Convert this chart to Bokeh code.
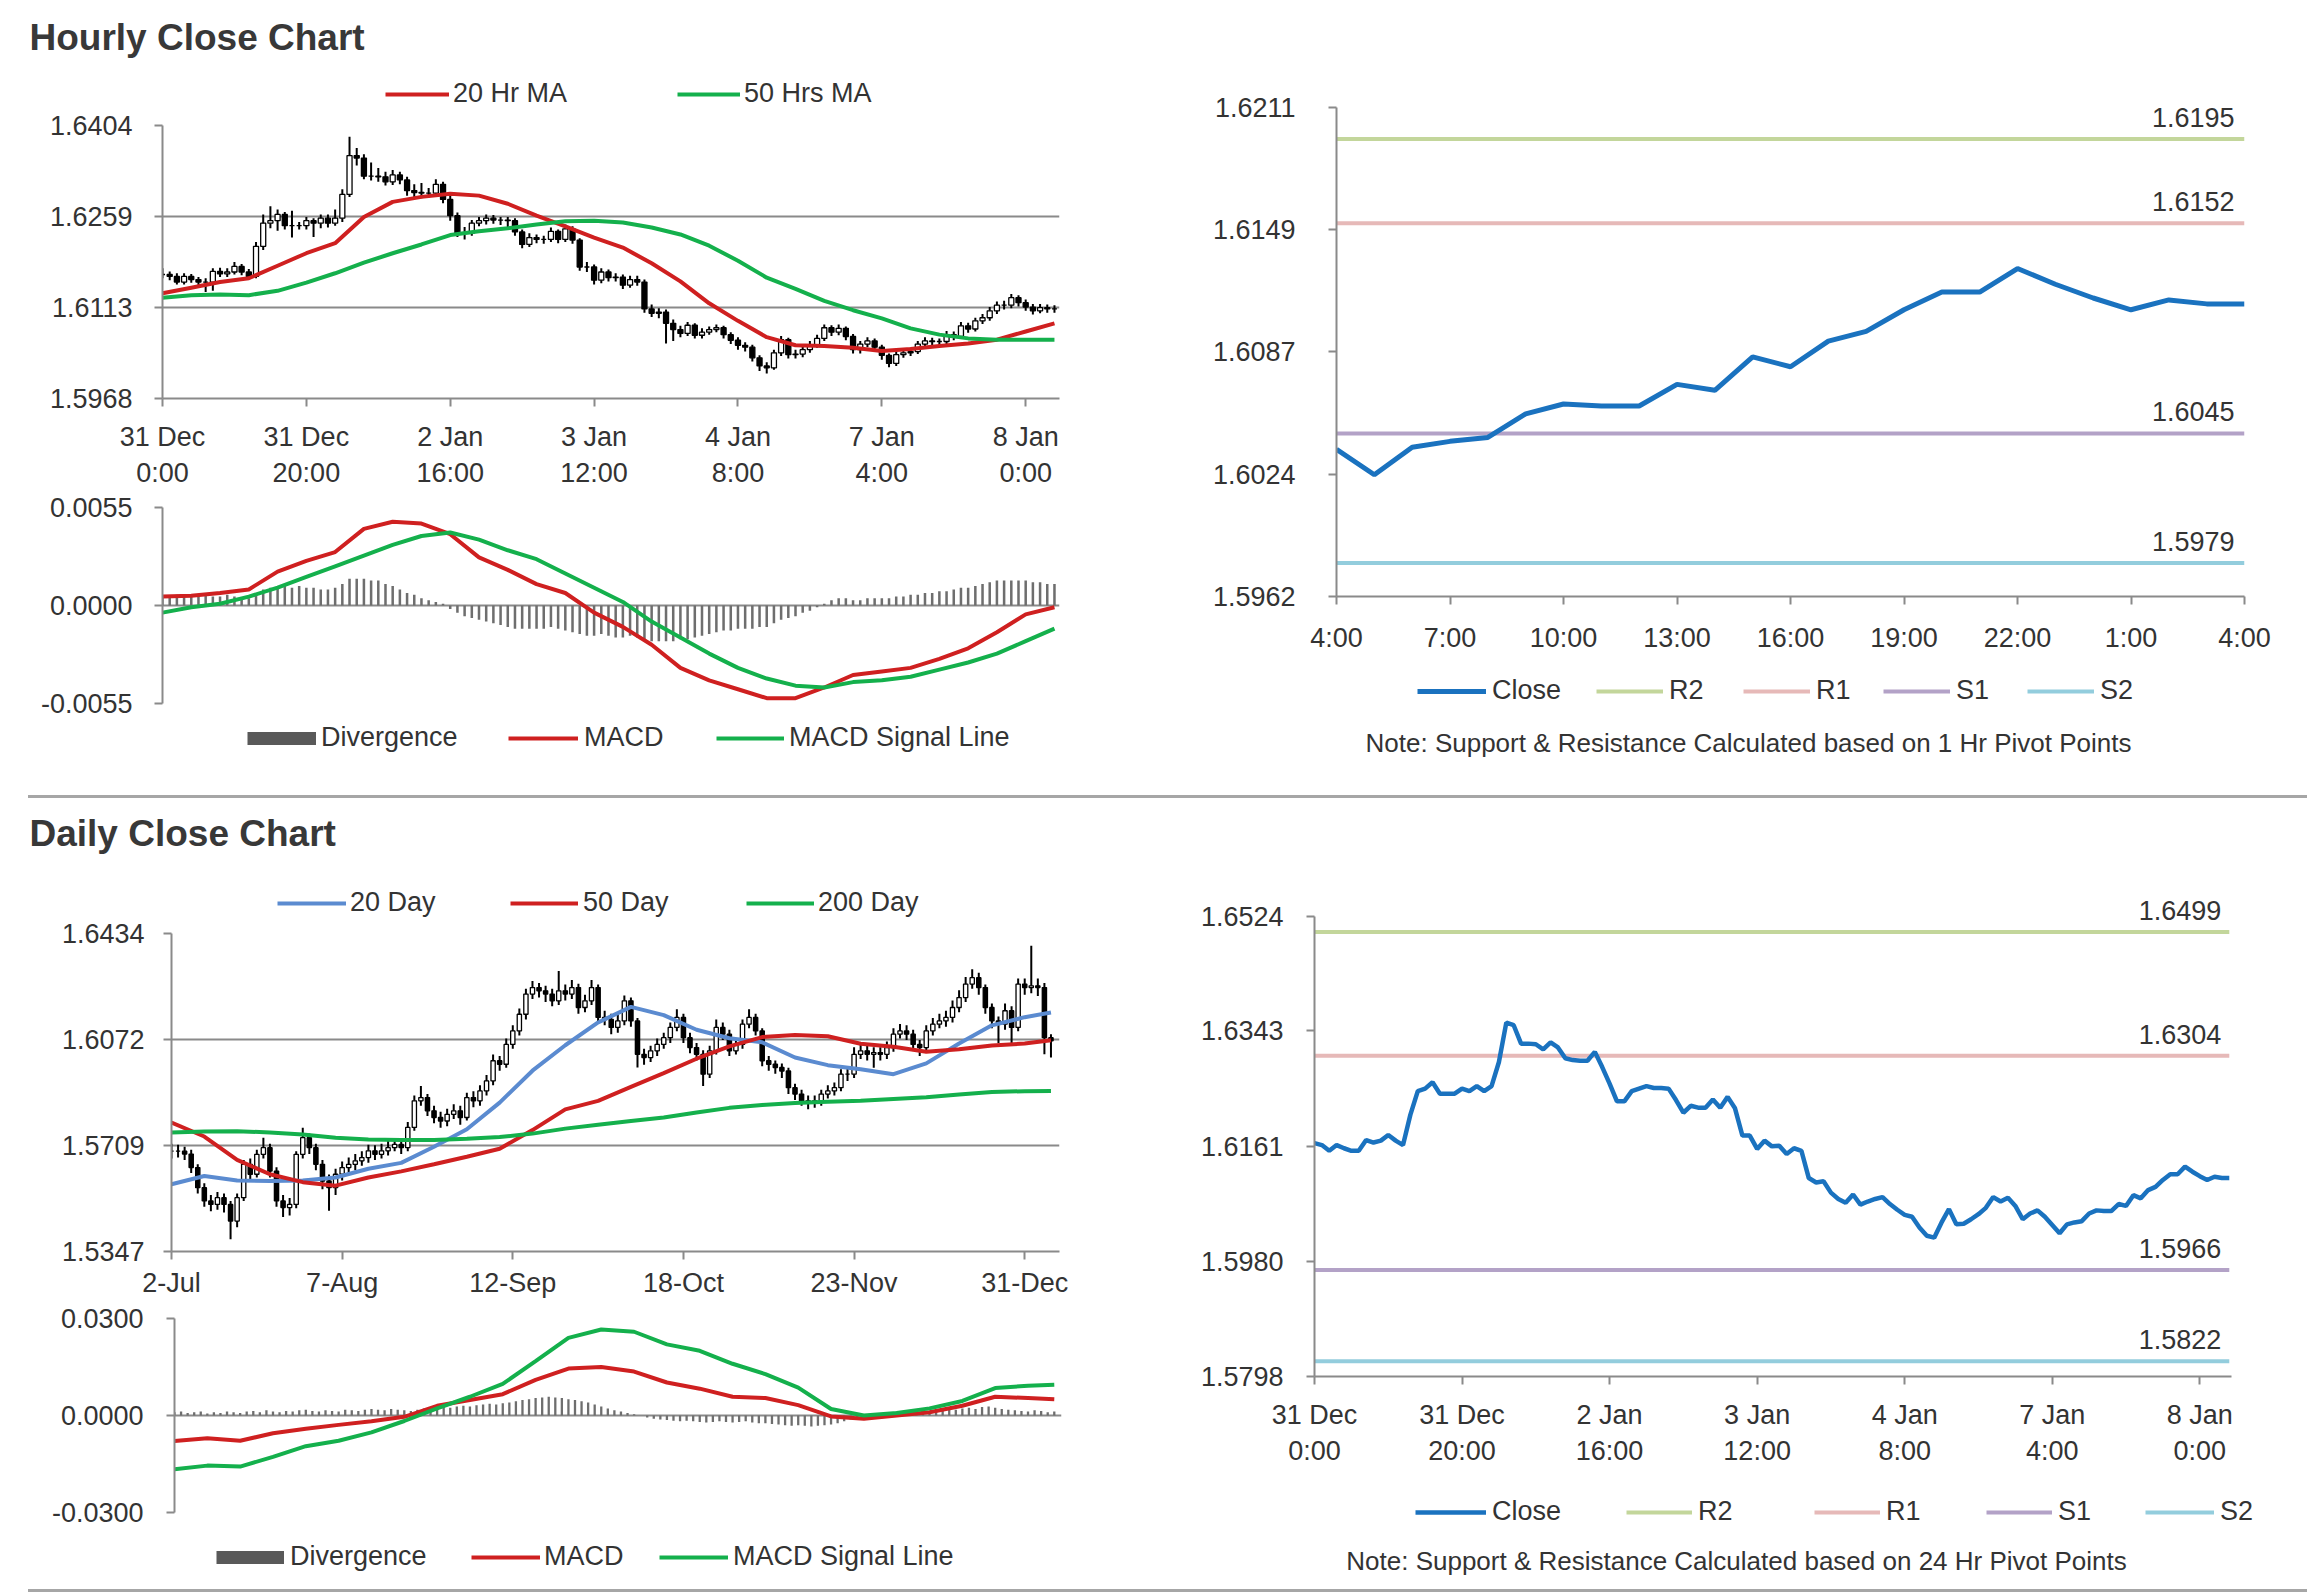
from bokeh.plotting import figure
from bokeh.models import (FixedTicker, NumeralTickFormatter, Legend, LegendItem, Label,
                          ColumnDataSource, Div)
from bokeh.layouts import column, row
from bokeh.embed import file_html
from bokeh.resources import INLINE
from bokeh.core.properties import value

# ---------------------------------------------------------------- data
# hourly bars: 31 Dec 0:00 ... 8 Jan 4:00 (125 trading hours)
hour_tick_pos = [0, 20, 40, 60, 80, 100, 120]
hour_tick_labels = ["31 Dec\n0:00", "31 Dec\n20:00", "2 Jan\n16:00", "3 Jan\n12:00",
                    "4 Jan\n8:00", "7 Jan\n4:00", "8 Jan\n0:00"]

hourly_close = [
    1.6166, 1.6163, 1.6154, 1.6163, 1.6158, 1.6154, 1.6154, 1.6171, 1.6167, 1.6170,
    1.6179, 1.6170, 1.6163, 1.6211, 1.6248, 1.6252, 1.6262, 1.6244, 1.6244, 1.6244,
    1.6252, 1.6248, 1.6256, 1.6248, 1.6256, 1.6294, 1.6356, 1.6352, 1.6323, 1.6323,
    1.6322, 1.6314, 1.6325, 1.6317, 1.6300, 1.6297, 1.6296, 1.6296, 1.6310, 1.6286,
    1.6260, 1.6232, 1.6232, 1.6248, 1.6252, 1.6256, 1.6253, 1.6253, 1.6252, 1.6234,
    1.6214, 1.6225, 1.6222, 1.6222, 1.6235, 1.6222, 1.6239, 1.6221, 1.6178, 1.6178,
    1.6157, 1.6170, 1.6161, 1.6162, 1.6149, 1.6158, 1.6154, 1.6111, 1.6104, 1.6106,
    1.6088, 1.6078, 1.6072, 1.6085, 1.6069, 1.6074, 1.6078, 1.6081, 1.6070, 1.6061,
    1.6053, 1.6050, 1.6033, 1.6020, 1.6017, 1.6041, 1.6062, 1.6038, 1.6039, 1.6046,
    1.6054, 1.6064, 1.6081, 1.6074, 1.6080, 1.6067, 1.6046, 1.6055, 1.6060, 1.6050,
    1.6037, 1.6024, 1.6038, 1.6041, 1.6043, 1.6055, 1.6060, 1.6059, 1.6059, 1.6070,
    1.6067, 1.6084, 1.6079, 1.6092, 1.6097, 1.6108, 1.6117, 1.6117, 1.6129, 1.6121,
    1.6114, 1.6108, 1.6113, 1.6111, 1.6111]
hourly_high = [
    1.6176, 1.6171, 1.6168, 1.6168, 1.6167, 1.6162, 1.6160, 1.6176, 1.6177, 1.6176,
    1.6186, 1.6183, 1.6175, 1.6218, 1.6262, 1.6275, 1.6270, 1.6266, 1.6268, 1.6250,
    1.6258, 1.6256, 1.6262, 1.6262, 1.6270, 1.6302, 1.6386, 1.6368, 1.6358, 1.6345,
    1.6336, 1.6330, 1.6333, 1.6330, 1.6322, 1.6310, 1.6312, 1.6304, 1.6318, 1.6314,
    1.6292, 1.6265, 1.6242, 1.6253, 1.6258, 1.6262, 1.6261, 1.6258, 1.6258, 1.6256,
    1.6238, 1.6232, 1.6230, 1.6228, 1.6241, 1.6238, 1.6246, 1.6243, 1.6224, 1.6186,
    1.6182, 1.6176, 1.6174, 1.6168, 1.6166, 1.6164, 1.6164, 1.6158, 1.6118, 1.6112,
    1.6110, 1.6094, 1.6084, 1.6090, 1.6088, 1.6080, 1.6083, 1.6086, 1.6084, 1.6074,
    1.6066, 1.6058, 1.6054, 1.6037, 1.6026, 1.6046, 1.6068, 1.6065, 1.6046, 1.6052,
    1.6060, 1.6070, 1.6086, 1.6085, 1.6086, 1.6083, 1.6071, 1.6060, 1.6066, 1.6064,
    1.6054, 1.6040, 1.6043, 1.6046, 1.6049, 1.6060, 1.6066, 1.6065, 1.6064, 1.6076,
    1.6075, 1.6090, 1.6089, 1.6097, 1.6103, 1.6114, 1.6123, 1.6124, 1.6135, 1.6133,
    1.6126, 1.6119, 1.6119, 1.6118, 1.6117]
hourly_low = [
    1.6160, 1.6157, 1.6150, 1.6150, 1.6153, 1.6148, 1.6138, 1.6140, 1.6162, 1.6162,
    1.6166, 1.6165, 1.6158, 1.6160, 1.6205, 1.6240, 1.6236, 1.6238, 1.6225, 1.6238,
    1.6238, 1.6226, 1.6240, 1.6241, 1.6244, 1.6250, 1.6290, 1.6340, 1.6318, 1.6316,
    1.6314, 1.6308, 1.6309, 1.6310, 1.6292, 1.6288, 1.6288, 1.6289, 1.6290, 1.6280,
    1.6252, 1.6226, 1.6222, 1.6228, 1.6243, 1.6246, 1.6247, 1.6245, 1.6242, 1.6228,
    1.6208, 1.6210, 1.6216, 1.6215, 1.6218, 1.6216, 1.6218, 1.6215, 1.6172, 1.6170,
    1.6150, 1.6152, 1.6155, 1.6155, 1.6143, 1.6145, 1.6148, 1.6105, 1.6098, 1.6096,
    1.6056, 1.6060, 1.6066, 1.6068, 1.6064, 1.6064, 1.6070, 1.6074, 1.6064, 1.6055,
    1.6046, 1.6043, 1.6027, 1.6012, 1.6008, 1.6014, 1.6036, 1.6032, 1.6032, 1.6034,
    1.6041, 1.6049, 1.6060, 1.6068, 1.6069, 1.6061, 1.6040, 1.6040, 1.6050, 1.6044,
    1.6030, 1.6018, 1.6020, 1.6033, 1.6036, 1.6039, 1.6050, 1.6053, 1.6052, 1.6055,
    1.6061, 1.6063, 1.6073, 1.6075, 1.6087, 1.6092, 1.6103, 1.6110, 1.6112, 1.6115,
    1.6108, 1.6102, 1.6104, 1.6105, 1.6105]

# moving averages / MACD sampled every 4 hours
hour_ma_idx = [0, 4, 8, 12, 16, 20, 24, 28, 32, 36, 40, 44, 48, 52, 56, 60,
               64, 68, 72, 76, 80, 84, 88, 92, 96, 100, 104, 108, 112, 116, 120, 124]
ma20_hour = [1.6136, 1.6145, 1.6154, 1.6160, 1.6180, 1.6200, 1.6216, 1.6258,
             1.6282, 1.6290, 1.6295, 1.6292, 1.6279, 1.6260, 1.6243, 1.6225,
             1.6209, 1.6184, 1.6155, 1.6120, 1.6092, 1.6066, 1.6053, 1.6052,
             1.6049, 1.6044, 1.6047, 1.6052, 1.6056, 1.6062, 1.6075, 1.6088]
ma50_hour = [1.6129, 1.6133, 1.6134, 1.6133, 1.6140, 1.6153, 1.6168, 1.6185,
             1.6200, 1.6214, 1.6229, 1.6235, 1.6240, 1.6246, 1.6251, 1.6252,
             1.6249, 1.6241, 1.6230, 1.6212, 1.6188, 1.6161, 1.6143, 1.6124,
             1.6109, 1.6096, 1.6080, 1.6070, 1.6064, 1.6062, 1.6062, 1.6062]
macd_hour = [0.0005, 0.00055, 0.0007, 0.0009, 0.0019, 0.0025, 0.0030, 0.0043,
             0.0047, 0.0046, 0.0040, 0.0027, 0.0020, 0.0012, 0.0007, -0.0004,
             -0.0012, -0.0022, -0.0035, -0.0042, -0.0047, -0.0052, -0.0052, -0.0046,
             -0.0039, -0.0037, -0.0035, -0.0030, -0.0024, -0.0015, -0.0005, -0.0001]
signal_hour = [-0.0004, -0.0001, 0.0001, 0.0005, 0.0010, 0.0016, 0.0022, 0.0028,
               0.0034, 0.0039, 0.0041, 0.0037, 0.0031, 0.0026, 0.0018, 0.0010,
               0.0002, -0.0009, -0.0018, -0.0027, -0.0035, -0.0041, -0.0045, -0.0046,
               -0.0043, -0.0042, -0.0040, -0.0036, -0.0032, -0.0027, -0.0020, -0.0013]
div_hour = [
    0.0005, 0.0005, 0.0006, 0.0005, 0.0005, 0.0006, 0.0006, 0.0005, 0.0005, 0.0006,
    0.0005, 0.0004, 0.0004, 0.0006, 0.0009, 0.0010, 0.0011, 0.0011, 0.0010, 0.0011,
    0.0010, 0.0010, 0.0009, 0.0009, 0.0010, 0.0012, 0.0015, 0.0015, 0.0015, 0.0014,
    0.0014, 0.0012, 0.0011, 0.0009, 0.0007, 0.0006, 0.0004, 0.0003, 0.0002, 0.0001,
    -0.0002, -0.0004, -0.0006, -0.0007, -0.0008, -0.0009, -0.0010, -0.0011, -0.0012, -0.0013,
    -0.0013, -0.0013, -0.0013, -0.0013, -0.0012, -0.0013, -0.0014, -0.0015, -0.0016, -0.0017,
    -0.0017, -0.0016, -0.0017, -0.0018, -0.0018, -0.0017, -0.0018, -0.0019, -0.0020, -0.0020,
    -0.0020, -0.0020, -0.0019, -0.0019, -0.0018, -0.0017, -0.0016, -0.0015, -0.0014, -0.0014,
    -0.0013, -0.0013, -0.0013, -0.0012, -0.0012, -0.0010, -0.0008, -0.0007, -0.0006, -0.0004,
    -0.0003, -0.0001, 0.0001, 0.0003, 0.0004, 0.0004, 0.0003, 0.0003, 0.0004, 0.0004,
    0.0004, 0.0004, 0.0005, 0.0005, 0.0006, 0.0006, 0.0007, 0.0007, 0.0008, 0.0008,
    0.0009, 0.0010, 0.0010, 0.0011, 0.0012, 0.0013, 0.0014, 0.0014, 0.0014, 0.0014,
    0.0014, 0.0013, 0.0013, 0.0012, 0.0012]

# last 24 hours (7 Jan 4:00 .. 8 Jan 4:00) and pivot levels
day_hour_tick_pos = [0, 3, 6, 9, 12, 15, 18, 21, 24]
day_hour_tick_labels = ["4:00", "7:00", "10:00", "13:00", "16:00", "19:00", "22:00", "1:00", "4:00"]
pivot_names = ["R2", "R1", "S1", "S2"]
pivot_1h = [1.6195, 1.6152, 1.6045, 1.5979]
pivot_24h = [1.6499, 1.6304, 1.5966, 1.5822]
pivot_colors = ["#c3d69b", "#e6b9b8", "#b3a2c7", "#93cddd"]

# daily bars: 2 Jul ... 8 Jan
day_tick_pos = [0, 26, 52, 78, 104, 130]
day_tick_labels = ["2-Jul", "7-Aug", "12-Sep", "18-Oct", "23-Nov", "31-Dec"]
daily_close = [
    1.5690, 1.5690, 1.5680, 1.5634, 1.5565, 1.5520, 1.5508, 1.5531, 1.5508, 1.5451,
    1.5531, 1.5645, 1.5611, 1.5679, 1.5702, 1.5622, 1.5520, 1.5497, 1.5508, 1.5679,
    1.5736, 1.5702, 1.5645, 1.5588, 1.5565, 1.5611, 1.5634, 1.5645, 1.5657, 1.5668,
    1.5691, 1.5679, 1.5691, 1.5702, 1.5713, 1.5702, 1.5771, 1.5862, 1.5873, 1.5828,
    1.5805, 1.5793, 1.5816, 1.5828, 1.5805, 1.5873, 1.5862, 1.5896, 1.5930, 1.5999,
    1.5987, 1.6055, 1.6101, 1.6158, 1.6227, 1.6249, 1.6238, 1.6227, 1.6204, 1.6238,
    1.6227, 1.6249, 1.6181, 1.6204, 1.6249, 1.6147, 1.6140, 1.6113, 1.6135, 1.6204,
    1.6135, 1.6021, 1.6010, 1.6033, 1.6055, 1.6078, 1.6113, 1.6147, 1.6078, 1.6044,
    1.6021, 1.5953, 1.6033, 1.6113, 1.6090, 1.6033, 1.6055, 1.6124, 1.6147, 1.6101,
    1.5999, 1.5987, 1.5976, 1.5964, 1.5907, 1.5885, 1.5862, 1.5856, 1.5862, 1.5885,
    1.5896, 1.5907, 1.5953, 1.5953, 1.6021, 1.6033, 1.6021, 1.6027, 1.6021, 1.6044,
    1.6090, 1.6101, 1.6090, 1.6055, 1.6044, 1.6101, 1.6124, 1.6135, 1.6147, 1.6181,
    1.6215, 1.6261, 1.6283, 1.6249, 1.6181, 1.6135, 1.6124, 1.6170, 1.6113, 1.6261,
    1.6249, 1.6255, 1.6249, 1.6078, 1.6067]
daily_high = [
    1.5715, 1.5712, 1.5705, 1.5695, 1.5645, 1.5580, 1.5540, 1.5550, 1.5545, 1.5520,
    1.5545, 1.5660, 1.5665, 1.5695, 1.5736, 1.5715, 1.5635, 1.5540, 1.5530, 1.5690,
    1.5770, 1.5750, 1.5715, 1.5660, 1.5610, 1.5630, 1.5655, 1.5668, 1.5680, 1.5690,
    1.5712, 1.5710, 1.5715, 1.5725, 1.5735, 1.5730, 1.5790, 1.5880, 1.5913, 1.5885,
    1.5845, 1.5825, 1.5835, 1.5850, 1.5845, 1.5890, 1.5895, 1.5915, 1.5950, 1.6020,
    1.6015, 1.6075, 1.6120, 1.6178, 1.6245, 1.6272, 1.6265, 1.6255, 1.6245, 1.6306,
    1.6260, 1.6275, 1.6262, 1.6225, 1.6275, 1.6260, 1.6170, 1.6160, 1.6160, 1.6222,
    1.6215, 1.6145, 1.6040, 1.6050, 1.6075, 1.6095, 1.6130, 1.6175, 1.6160, 1.6095,
    1.6060, 1.6035, 1.6050, 1.6140, 1.6130, 1.6105, 1.6075, 1.6140, 1.6175, 1.6160,
    1.6110, 1.6015, 1.6000, 1.5990, 1.5975, 1.5920, 1.5900, 1.5880, 1.5880, 1.5900,
    1.5915, 1.5925, 1.5970, 1.5975, 1.6045, 1.6055, 1.6050, 1.6045, 1.6045, 1.6065,
    1.6110, 1.6125, 1.6120, 1.6105, 1.6070, 1.6120, 1.6145, 1.6160, 1.6170, 1.6205,
    1.6240, 1.6285, 1.6312, 1.6300, 1.6260, 1.6195, 1.6150, 1.6195, 1.6185, 1.6280,
    1.6280, 1.6392, 1.6280, 1.6265, 1.6090]
daily_low = [
    1.5665, 1.5668, 1.5660, 1.5615, 1.5545, 1.5500, 1.5485, 1.5490, 1.5480, 1.5389,
    1.5430, 1.5520, 1.5590, 1.5600, 1.5665, 1.5600, 1.5500, 1.5465, 1.5470, 1.5495,
    1.5665, 1.5680, 1.5625, 1.5560, 1.5486, 1.5540, 1.5590, 1.5615, 1.5625, 1.5640,
    1.5650, 1.5660, 1.5665, 1.5675, 1.5690, 1.5680, 1.5690, 1.5760, 1.5845, 1.5810,
    1.5785, 1.5770, 1.5775, 1.5800, 1.5780, 1.5795, 1.5840, 1.5845, 1.5880, 1.5915,
    1.5965, 1.5975, 1.6040, 1.6085, 1.6140, 1.6210, 1.6215, 1.6200, 1.6185, 1.6190,
    1.6205, 1.6210, 1.6160, 1.6165, 1.6190, 1.6125, 1.6120, 1.6090, 1.6095, 1.6120,
    1.6115, 1.5976, 1.5985, 1.5995, 1.6015, 1.6040, 1.6060, 1.6100, 1.6060, 1.6025,
    1.6000, 1.5913, 1.5940, 1.6020, 1.6070, 1.6015, 1.6020, 1.6040, 1.6110, 1.6085,
    1.5980, 1.5965, 1.5955, 1.5940, 1.5885, 1.5865, 1.5845, 1.5833, 1.5838, 1.5845,
    1.5870, 1.5880, 1.5895, 1.5930, 1.5940, 1.6005, 1.6000, 1.5975, 1.6000, 1.6005,
    1.6030, 1.6075, 1.6070, 1.6035, 1.6015, 1.6030, 1.6085, 1.6110, 1.6115, 1.6130,
    1.6165, 1.6200, 1.6245, 1.6225, 1.6160, 1.6110, 1.6060, 1.6105, 1.6060, 1.6100,
    1.6225, 1.6230, 1.6220, 1.6021, 1.6010]

day_ma_idx = [0, 5, 10, 15, 20, 25, 30, 35, 40, 45, 50, 55, 60, 65, 70, 75,
              80, 85, 90, 95, 100, 105, 110, 115, 120, 125, 130, 134]
ma20_day = [1.5577, 1.5605, 1.5590, 1.5588, 1.5590, 1.5600, 1.5630, 1.5650,
            1.5705, 1.5765, 1.5856, 1.5965, 1.6052, 1.6130, 1.6183, 1.6155,
            1.6105, 1.6076, 1.6062, 1.6010, 1.5984, 1.5970, 1.5953, 1.5990,
            1.6058, 1.6120, 1.6148, 1.6164]
ma50_day = [1.5788, 1.5740, 1.5660, 1.5611, 1.5584, 1.5572, 1.5600, 1.5621,
            1.5645, 1.5671, 1.5698, 1.5762, 1.5833, 1.5862, 1.5910, 1.5957,
            1.6006, 1.6048, 1.6080, 1.6087, 1.6083, 1.6057, 1.6047, 1.6030,
            1.6038, 1.6051, 1.6058, 1.6069]
ma200_day = [1.5754, 1.5757, 1.5758, 1.5754, 1.5747, 1.5736, 1.5730, 1.5728,
             1.5728, 1.5732, 1.5738, 1.5750, 1.5767, 1.5780, 1.5793, 1.5805,
             1.5822, 1.5838, 1.5848, 1.5855, 1.5859, 1.5862, 1.5868, 1.5874,
             1.5884, 1.5892, 1.5895, 1.5896]
macd_day = [-0.0079, -0.0070, -0.0078, -0.0055, -0.0041, -0.0029, -0.0018, -0.0004,
            0.0030, 0.0048, 0.0066, 0.0110, 0.0145, 0.0150, 0.0136, 0.0102,
            0.0083, 0.0058, 0.0054, 0.0032, -0.0003, -0.0010, 0.0000, 0.0010,
            0.0030, 0.0058, 0.0054, 0.0050]
signal_day = [-0.0166, -0.0155, -0.0158, -0.0128, -0.0095, -0.0078, -0.0052, -0.0017,
              0.0022, 0.0058, 0.0098, 0.0168, 0.0240, 0.0266, 0.0259, 0.0220,
              0.0200, 0.0160, 0.0128, 0.0086, 0.0020, 0.0000, 0.0008, 0.0022,
              0.0045, 0.0085, 0.0092, 0.0095]
div_day = [
    0.0010, 0.0012, 0.0008, 0.0010, 0.0012, 0.0006, 0.0010, 0.0008, 0.0012, 0.0010,
    0.0008, 0.0012, 0.0014, 0.0010, 0.0016, 0.0012, 0.0010, 0.0014, 0.0012, 0.0016,
    0.0018, 0.0014, 0.0012, 0.0016, 0.0014, 0.0012, 0.0018, 0.0016, 0.0014, 0.0018,
    0.0020, 0.0018, 0.0016, 0.0020, 0.0018, 0.0016, 0.0014, 0.0018, 0.0022, 0.0020,
    0.0024, 0.0026, 0.0024, 0.0028, 0.0030, 0.0028, 0.0032, 0.0034, 0.0036, 0.0034,
    0.0038, 0.0040, 0.0044, 0.0048, 0.0050, 0.0054, 0.0056, 0.0058, 0.0056, 0.0054,
    0.0050, 0.0048, 0.0044, 0.0040, 0.0034, 0.0028, 0.0022, 0.0016, 0.0012, 0.0008,
    0.0004, 0.0000, -0.0006, -0.0010, -0.0012, -0.0014, -0.0016, -0.0018, -0.0016, -0.0018,
    -0.0020, -0.0022, -0.0020, -0.0018, -0.0020, -0.0022, -0.0020, -0.0018, -0.0022, -0.0024,
    -0.0024, -0.0026, -0.0028, -0.0030, -0.0032, -0.0030, -0.0032, -0.0034, -0.0032, -0.0030,
    -0.0028, -0.0024, -0.0018, -0.0012, -0.0006, -0.0002, 0.0004, 0.0008, 0.0006, 0.0010,
    0.0012, 0.0010, 0.0014, 0.0012, 0.0016, 0.0014, 0.0018, 0.0016, 0.0020, 0.0018,
    0.0022, 0.0024, 0.0020, 0.0026, 0.0028, 0.0024, 0.0020, 0.0018, 0.0016, 0.0014,
    0.0012, 0.0016, 0.0014, 0.0010, 0.0012]

# ---------------------------------------------------------------- style
FONT = "Liberation Sans"
TXT = "#333333"
AXC = "#8a8a8a"
TFS = "27px"
RED = "#cf2020"
GREEN = "#14b04c"
BLUE = "#1a72bf"
BLUE2 = "#5b8bd0"
DIVC = "#6e6e6e"
LEGDIV = "#595959"
NAN = float("nan")


def base_fig(w, h, xr, yr, left, right, top, bottom, x_axis=True):
    p = figure(width=w, height=h, x_range=xr, y_range=yr, output_backend="svg",
               toolbar_location=None, tools="",
               min_border_left=left, min_border_right=right,
               min_border_top=top, min_border_bottom=bottom,
               x_axis_location="below" if x_axis else None)
    p.frame_align = False
    p.outline_line_color = None
    p.background_fill_color = "white"
    p.border_fill_color = "white"
    p.xgrid.visible = False
    p.ygrid.visible = False
    for ax in p.axis:
        ax.axis_line_color = AXC
        ax.axis_line_width = 2
        ax.major_tick_line_color = AXC
        ax.major_tick_line_width = 2
        ax.major_tick_out = 8
        ax.major_tick_in = 0
        ax.minor_tick_line_color = None
        ax.major_label_text_font = FONT
        ax.major_label_text_font_size = TFS
        ax.major_label_text_color = TXT
    return p


def strip(w, h):
    s = figure(width=w, height=h, x_range=(0, w), y_range=(0, h), output_backend="svg",
               toolbar_location=None, tools="", min_border=0,
               x_axis_location=None, y_axis_location=None)
    s.frame_align = False
    s.outline_line_color = None
    s.background_fill_color = "white"
    s.border_fill_color = "white"
    s.grid.visible = False
    return s


def set_y(p, ticks, standoff, grid):
    p.yaxis.ticker = FixedTicker(ticks=ticks)
    p.yaxis.formatter = NumeralTickFormatter(format="0.0000")
    p.yaxis.major_label_standoff = standoff
    p.yaxis.bounds = (ticks[0], ticks[-1])
    if grid:
        p.ygrid.ticker = FixedTicker(ticks=ticks)
        p.ygrid.visible = True
        p.ygrid.grid_line_color = AXC
        p.ygrid.grid_line_width = 2


def set_x(p, pos, labels, standoff):
    p.xaxis.ticker = FixedTicker(ticks=pos)
    p.xaxis.major_label_overrides = {k: v for k, v in zip(pos, labels)}
    p.xaxis.major_label_standoff = standoff


def legend_item(s, label, color, width, x, y, gw, standoff=5):
    # legend swatch proxy (NaN data: nothing drawn in the strip itself)
    proxy = s.line(x=[NAN, NAN], y=[NAN, NAN], line_color=color, line_width=width,
                   line_cap="butt")
    leg = Legend(items=[LegendItem(label=value(label), renderers=[proxy])],
                 location=(x, y), orientation="horizontal", padding=0, margin=0,
                 spacing=0, glyph_width=gw, glyph_height=20, label_height=20,
                 label_standoff=standoff, label_text_font=FONT,
                 label_text_font_size=TFS, label_text_color=TXT,
                 background_fill_alpha=0, border_line_alpha=0)
    s.add_layout(leg)


def text_label(s, txt, x, y, size, bold=False, align="left"):
    s.add_layout(Label(x=x, y=y, x_units="screen", y_units="screen", text=txt,
                       text_font=FONT, text_font_size=size,
                       text_font_style="bold" if bold else "normal",
                       text_color="#383838" if bold else TXT,
                       text_baseline="middle", text_align=align))


def candles(p, close, high, low, width):
    idx = list(range(len(close)))
    opens = [close[0]] + close[:-1]
    src = ColumnDataSource(dict(
        x=idx, high=high, low=low,
        top=[max(o, c) for o, c in zip(opens, close)],
        bot=[min(o, c) for o, c in zip(opens, close)],
        fill=["white" if c > o else "black" for o, c in zip(opens, close)]))
    p.segment(x0="x", y0="low", x1="x", y1="high", source=src,
              line_color="black", line_width=2)
    p.vbar(x="x", top="top", bottom="bot", width=width, fill_color="fill",
           line_color="black", line_width=1.3, source=src)


def pivot_chart(p, close, levels, lw_close, xoff):
    n = len(close)
    for lvl, col in zip(levels, pivot_colors):
        p.line([0, n - 1], [lvl, lvl], line_color=col, line_width=4)
    p.line(list(range(n)), close, line_color=BLUE, line_width=lw_close)
    src = ColumnDataSource(dict(x=[n - 1] * len(levels), y=levels,
                                t=["%.4f" % v for v in levels]))
    p.text(x="x", y="y", text="t", source=src, text_align="right",
           text_baseline="bottom", x_offset=xoff, y_offset=-12,
           text_font=value(FONT), text_font_size=value(TFS), text_color=TXT)


def pivot_legend(s, xs, ws, y, close_w):
    names = ["Close"] + pivot_names
    cols = [BLUE] + pivot_colors
    lws = [close_w, 4, 4, 4, 4]
    for nm, c, lw, x, w in zip(names, cols, lws, xs, ws):
        legend_item(s, nm, c, lw, x, y, w, standoff=6)


# ---------------------------------------------------------------- top-left column (y 0..795)
h1 = strip(1150, 108)
text_label(h1, "Hourly Close Chart", 29, 71, "37px", bold=True)
legend_item(h1, "20 Hr MA", RED, 4, 385, -1, 64, standoff=4)
legend_item(h1, "50 Hrs MA", GREEN, 4, 677, -1, 63, standoff=4)

p1 = base_fig(1150, 382, (0, 124.7), (1.5968, 1.6404), 162, 91, 17, 90)
set_y(p1, [1.5968, 1.6113, 1.6259, 1.6404], 22, True)
set_x(p1, hour_tick_pos, hour_tick_labels, 15)
candles(p1, hourly_close, hourly_high, hourly_low, 0.7)
p1.line(hour_ma_idx, ma20_hour, line_color=RED, line_width=4)
p1.line(hour_ma_idx, ma50_hour, line_color=GREEN, line_width=4)

p2 = base_fig(1150, 229, (0, 124.7), (-0.0055, 0.0055), 162, 91, 17, 16, x_axis=False)
set_y(p2, [-0.0055, 0.0, 0.0055], 22, True)
p2.vbar(x=list(range(len(div_hour))), top=div_hour, bottom=0, width=0.35,
        fill_color=DIVC, line_color=None)
p2.line(hour_ma_idx, macd_hour, line_color=RED, line_width=4)
p2.line(hour_ma_idx, signal_hour, line_color=GREEN, line_width=4)

s2 = strip(1150, 76)
legend_item(s2, "Divergence", LEGDIV, 13, 247, 42, 69)
legend_item(s2, "MACD", RED, 4, 508, 42, 70, standoff=6)
legend_item(s2, "MACD Signal Line", GREEN, 4, 716, 42, 68)

# ---------------------------------------------------------------- top-right column (y 0..795)
p3 = base_fig(1157, 660, (0, 24), (1.5962, 1.622118), 186, 63, 87, 64)
set_y(p3, [1.5962, 1.6024, 1.6087, 1.6149, 1.6211], 33, False)
set_x(p3, day_hour_tick_pos, day_hour_tick_labels, 18)
pivot_chart(p3, hourly_close[100:], pivot_1h, 5, -10)

s3 = strip(1157, 135)
pivot_legend(s3, [267, 446, 593, 733, 877], [69, 67, 67, 67, 67], 89, 5)
text_label(s3, "Note: Support & Resistance Calculated based on 1 Hr Pivot Points",
           598, 53, "26px", align="center")

# ---------------------------------------------------------------- bottom-left column (y 798..1589)
h4 = strip(1150, 119)
text_label(h4, "Daily Close Chart", 29, 84, "37px", bold=True)
legend_item(h4, "20 Day", BLUE2, 4, 277, -1, 69, standoff=4)
legend_item(h4, "50 Day", RED, 4, 510, -1, 68, standoff=5)
legend_item(h4, "200 Day", GREEN, 4, 746, -1, 68, standoff=4)

p4 = base_fig(1150, 383, (0, 135.3), (1.5347, 1.6434), 171, 91, 16, 49)
set_y(p4, [1.5347, 1.5709, 1.6072, 1.6434], 19, True)
set_x(p4, day_tick_pos, day_tick_labels, 8)
candles(p4, daily_close, daily_high, daily_low, 0.65)
p4.line(day_ma_idx, ma20_day, line_color=BLUE2, line_width=4)
p4.line(day_ma_idx, ma50_day, line_color=RED, line_width=4)
p4.line(day_ma_idx, ma200_day, line_color=GREEN, line_width=4)

p5 = base_fig(1150, 228, (0, 135.1), (-0.03, 0.03), 174, 89, 18, 16, x_axis=False)
set_y(p5, [-0.03, 0.0, 0.03], 23, True)
p5.vbar(x=list(range(len(div_day))), top=div_day, bottom=0, width=0.35,
        fill_color=DIVC, line_color=None)
p5.line(day_ma_idx, macd_day, line_color=RED, line_width=4)
p5.line(day_ma_idx, signal_day, line_color=GREEN, line_width=4)

s5 = strip(1150, 61)
legend_item(s5, "Divergence", LEGDIV, 13, 216, 17, 68, standoff=6)
legend_item(s5, "MACD", RED, 4, 471, 17, 69, standoff=4)
legend_item(s5, "MACD Signal Line", GREEN, 4, 659, 17, 69, standoff=5)

# ---------------------------------------------------------------- bottom-right column (y 798..1589)
p6 = base_fig(1157, 670, (0, 124.3), (1.5798, 1.65866), 164, 76, 78, 88)
set_y(p6, [1.5798, 1.5980, 1.6161, 1.6343, 1.6524], 23, False)
set_x(p6, hour_tick_pos, hour_tick_labels, 15)
pivot_chart(p6, hourly_close, pivot_24h, 4.5, -8)

s6 = strip(1157, 121)
pivot_legend(s6, [265, 476, 664, 836, 995], [71, 66, 66, 66, 69], 62, 4.5)
text_label(s6, "Note: Support & Resistance Calculated based on 24 Hr Pivot Points",
           586, 29, "26px", align="center")

# ---------------------------------------------------------------- layout
sep1 = Div(text="", width=2279, height=3, margin=(0, 0, 0, 28),
           styles={"background-color": "#a6a6a6"})
sep2 = Div(text="", width=2279, height=3, margin=(0, 0, 0, 28),
           styles={"background-color": "#a6a6a6"})
top = row(column(h1, p1, p2, s2, spacing=0), column(p3, s3, spacing=0), spacing=0)
bottom = row(column(h4, p4, p5, s5, spacing=0), column(p6, s6, spacing=0), spacing=0)
layout = column(top, sep1, bottom, sep2, spacing=0)

open("out.html", "w").write(file_html(layout, INLINE))
